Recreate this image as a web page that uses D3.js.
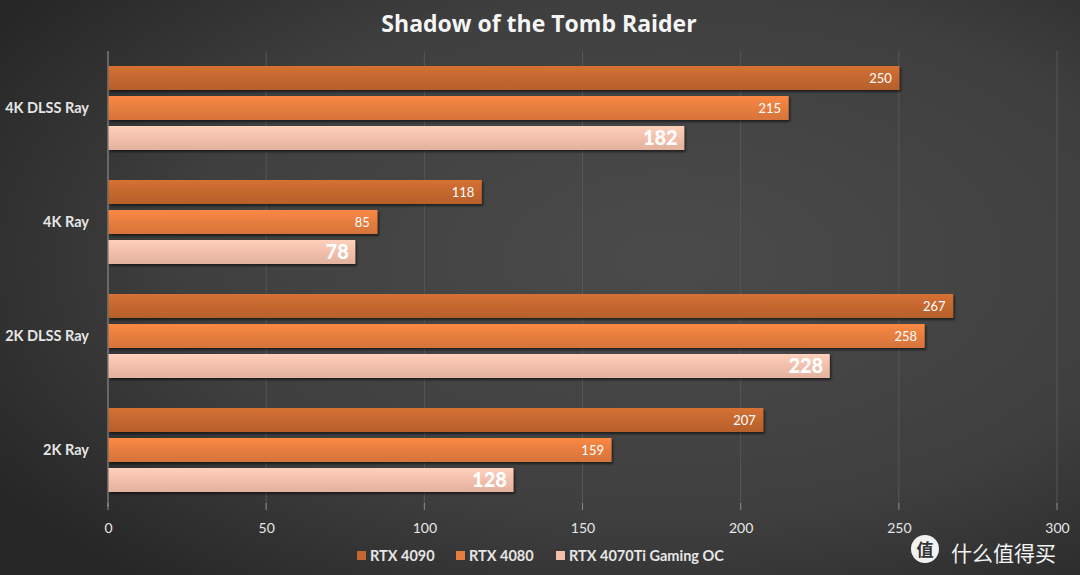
<!DOCTYPE html>
<html><head><meta charset="utf-8">
<script src="https://cdn.jsdelivr.net/npm/d3@7"></script>
<style>body{margin:0;background:#3a3a3a}svg{display:block}</style>
</head><body>
<svg id="c" width="1080" height="575"></svg>
<script>
const categories = ["4K DLSS Ray", "4K Ray", "2K DLSS Ray", "2K Ray"];
const seriesNames = ["RTX 4090", "RTX 4080", "RTX 4070Ti Gaming OC"];
const rtx4090 = [250, 118, 267, 207];
const rtx4080 = [215, 85, 258, 159];
const rtx4070ti = [182, 78, 228, 128];
const tickValues = [0, 50, 100, 150, 200, 250, 300];
const colors = ["#c4672f", "#e67d3e", "#f2bfab"];

const series = [rtx4090, rtx4080, rtx4070ti];
const svg = d3.select("#c");
const W = 1080, H = 575;
const defs = svg.append("defs");
const bg = defs.append("radialGradient").attr("id","bg").attr("cx","0.62").attr("cy","0.45").attr("r","0.75");
bg.append("stop").attr("offset","0").attr("stop-color","#4b4b4b");
bg.append("stop").attr("offset","0.6").attr("stop-color","#3f3f3f");
bg.append("stop").attr("offset","1").attr("stop-color","#262626");
svg.append("rect").attr("width",W).attr("height",H).attr("fill","url(#bg)");

colors.forEach((c,i)=>{
  const g = defs.append("linearGradient").attr("id","g"+i).attr("x1",0).attr("y1",0).attr("x2",0).attr("y2",1);
  g.append("stop").attr("offset","0").attr("stop-color",d3.color(c).brighter(0.25));
  g.append("stop").attr("offset","0.5").attr("stop-color",c);
  g.append("stop").attr("offset","1").attr("stop-color",d3.color(c).darker(0.2));
});
const f = defs.append("filter").attr("id","sh").attr("x","-5%").attr("y","-20%").attr("width","110%").attr("height","160%");
f.append("feDropShadow").attr("dx",1.5).attr("dy",2).attr("stdDeviation",1.2).attr("flood-color","#000").attr("flood-opacity",0.55);

const x = d3.scaleLinear().domain([0,300]).range([108,1057]);
const y = d3.scaleBand().domain(categories).range([51,507]).paddingInner(0).paddingOuter(0);
const inner = d3.scaleBand().domain([0,1,2]).range([0,y.bandwidth()]).paddingInner(0.2).paddingOuter(0.5);

// gridlines
svg.append("g").selectAll("line").data(tickValues.slice(1)).join("line")
  .attr("x1",d=>x(d)).attr("x2",d=>x(d)).attr("y1",51).attr("y2",507)
  .attr("stroke","#575757").attr("stroke-width",1);

// bottom axis
const xAxis = d3.axisBottom(x).tickValues(tickValues).tickSize(0).tickPadding(0);
const ax = svg.append("g").attr("transform","translate(0,529)").call(xAxis);
ax.select(".domain").remove();
ax.selectAll("text").attr("fill","#e6e6e6").attr("font-family","Lato, 'Open Sans', sans-serif").attr("font-size",14).attr("dy","0.32em");
// tick marks at bottom
svg.append("g").selectAll("line").data(tickValues).join("line")
  .attr("x1",d=>x(d)).attr("x2",d=>x(d)).attr("y1",503).attr("y2",510)
  .attr("stroke","#8a8a8a");
// vertical axis line
svg.append("line").attr("x1",x(0)).attr("x2",x(0)).attr("y1",51).attr("y2",507).attr("stroke","#9a9a9a");

// left axis labels
const yAxis = d3.axisLeft(y).tickSize(0).tickPadding(19);
const ay = svg.append("g").attr("transform",`translate(${x(0)},0)`).call(yAxis);
ay.select(".domain").remove();
ay.selectAll("text").attr("fill","#e6e6e6").attr("font-family","Lato, 'Open Sans', sans-serif").attr("font-weight","bold").attr("font-size",14.5);

// bars
series.forEach((vals,si)=>{
  const g = svg.append("g");
  g.selectAll("rect").data(vals).join("rect")
    .attr("x",x(0)+0.5).attr("y",(d,i)=>y(categories[i])+inner(si))
    .attr("width",d=>x(d)-x(0)).attr("height",inner.bandwidth())
    .attr("fill",`url(#g${si})`).attr("filter","url(#sh)");
  const big = si===2;
  g.selectAll("text").data(vals).join("text")
    .attr("x",d=>x(d)-(big?6:7)).attr("y",(d,i)=>y(categories[i])+inner(si)+inner.bandwidth()/2)
    .attr("dy","0.36em").attr("text-anchor","end")
    .attr("fill","#fff").attr("font-family","Lato, 'Open Sans', sans-serif")
    .attr("font-weight",big?"900":"normal").attr("font-size",big?20:13)
    .text(d=>d);
});

// title
svg.append("text").attr("x",539).attr("y",32).attr("text-anchor","middle")
  .attr("fill","#f5f5f5").attr("font-family","'Open Sans', Lato, sans-serif").attr("font-weight","bold").attr("font-size",23)
  .text("Shadow of the Tomb Raider");

// legend
const legX = [357, 456, 556];
const lg = svg.append("g");
seriesNames.forEach((n,i)=>{
  lg.append("rect").attr("x",legX[i]).attr("y",551).attr("width",9).attr("height",9).attr("fill",colors[i]);
  lg.append("text").attr("x",legX[i]+13).attr("y",556).attr("dy","0.35em")
    .attr("fill","#e6e6e6").attr("font-family","Lato, 'Open Sans', sans-serif").attr("font-weight","bold").attr("font-size",14.5).text(n);
});

// watermark
const wm = svg.append("g");
wm.append("circle").attr("cx",925).attr("cy",549).attr("r",14).attr("fill","#f2f2f2");
wm.append("text").attr("x",925).attr("y",550).attr("text-anchor","middle").attr("dy","0.36em")
  .attr("fill","#333").attr("font-family","'Noto Sans CJK SC'").attr("font-weight","bold").attr("font-size",17).text("值");
wm.append("text").attr("x",951).attr("y",553).attr("dy","0.36em")
  .attr("fill","#f2f2f2").attr("font-family","'Noto Sans CJK SC'").attr("font-size",21).text("什么值得买");
</script>
</body></html>
